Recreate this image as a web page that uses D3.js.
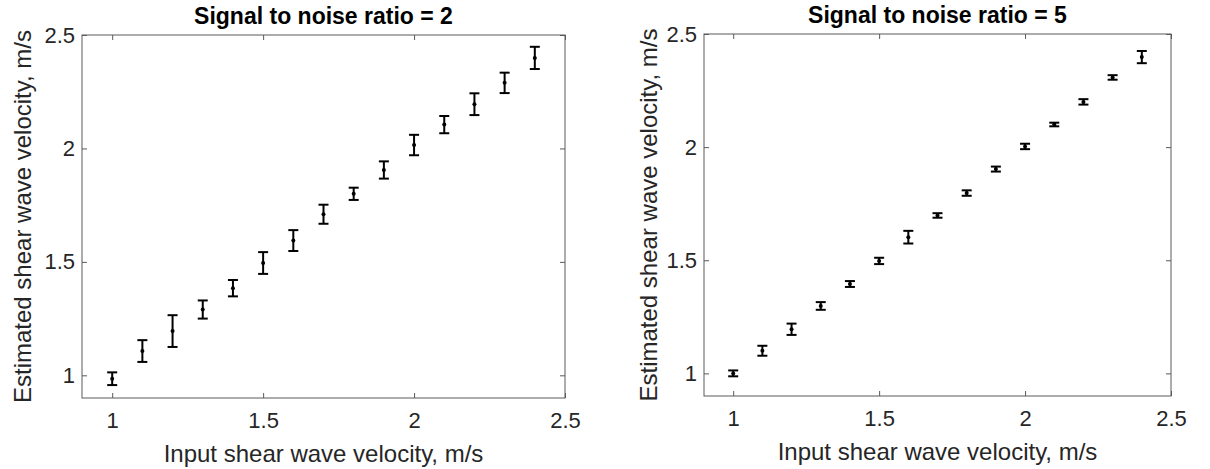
<!DOCTYPE html>
<html>
<head>
<meta charset="utf-8">
<script src="https://cdn.jsdelivr.net/npm/d3@7"></script>
<style>
  body { margin: 0; background: #fff; }
  svg text { font-family: Arial, "Liberation Sans", sans-serif; fill: #262626; }
</style>
</head>
<body>
<div id="chart"></div>
<script>
// input velocities (shared x values)
var inputVel = [1.0, 1.1, 1.2, 1.3, 1.4, 1.5, 1.6, 1.7, 1.8, 1.9, 2.0, 2.1, 2.2, 2.3, 2.4];

// SNR = 2 : estimated mean and error half-length
var snr2Mean = [0.985, 1.107, 1.195, 1.290, 1.384, 1.495, 1.594, 1.710, 1.800, 1.905, 2.015, 2.105, 2.195, 2.289, 2.399];
var snr2Err  = [0.028, 0.048, 0.070, 0.040, 0.036, 0.048, 0.046, 0.042, 0.027, 0.038, 0.045, 0.038, 0.048, 0.045, 0.049];

// SNR = 5
var snr5Mean = [1.000, 1.100, 1.195, 1.298, 1.395, 1.497, 1.602, 1.698, 1.797, 1.903, 2.003, 2.100, 2.200, 2.308, 2.398];
var snr5Err  = [0.013, 0.022, 0.025, 0.017, 0.013, 0.014, 0.028, 0.010, 0.012, 0.011, 0.012, 0.008, 0.012, 0.010, 0.027];

var xTicks = [1, 1.5, 2, 2.5];
var yTicks = [1, 1.5, 2, 2.5];

var panels = [
  {title: "Signal to noise ratio = 2", mean: snr2Mean, err: snr2Err, left: 82, top: 35, w: 483, h: 363, ylabX: 31},
  {title: "Signal to noise ratio = 5", mean: snr5Mean, err: snr5Err, left: 704, top: 34, w: 467, h: 362, ylabX: 657}
];

var svg = d3.select("#chart")
  .append("svg")
    .attr("width", 1210)
    .attr("height", 469);

var axisColor = "#5a5a5a";

panels.forEach(function(p) {
  var g = svg.append("g")
      .attr("transform", "translate(" + p.left + "," + p.top + ")");

  var x = d3.scaleLinear().domain([0.9, 2.5]).range([0, p.w]);
  var y = d3.scaleLinear().domain([0.9, 2.5]).range([p.h, 0]);

  // bottom axis with labels
  g.append("g")
      .attr("transform", "translate(0," + p.h + ")")
      .call(d3.axisBottom(x).tickValues(xTicks).tickFormat(d3.format("")).tickSizeInner(-5).tickSizeOuter(0).tickPadding(14))
      .call(styleAxis);
  // left axis with labels
  g.append("g")
      .call(d3.axisLeft(y).tickValues(yTicks).tickFormat(d3.format("")).tickSizeInner(-5).tickSizeOuter(0).tickPadding(7))
      .call(styleAxis);
  // top and right ticks only
  g.append("g")
      .call(d3.axisTop(x).tickValues(xTicks).tickFormat("").tickSizeInner(-5).tickSizeOuter(0))
      .call(styleAxis);
  g.append("g")
      .attr("transform", "translate(" + p.w + ",0)")
      .call(d3.axisRight(y).tickValues(yTicks).tickFormat("").tickSizeInner(-5).tickSizeOuter(0))
      .call(styleAxis);

  // box
  g.append("rect")
      .attr("width", p.w)
      .attr("height", p.h)
      .attr("fill", "none")
      .attr("stroke", axisColor)
      .attr("stroke-width", 1);

  var data = inputVel.map(function(v, i) { return {x: v, m: p.mean[i], e: p.err[i]}; });
  var cap = 5;

  var bars = g.selectAll(".eb")
      .data(data)
      .enter()
      .append("g")
        .attr("class", "eb");

  bars.append("line")
      .attr("x1", function(d) { return x(d.x); })
      .attr("x2", function(d) { return x(d.x); })
      .attr("y1", function(d) { return y(d.m - d.e); })
      .attr("y2", function(d) { return y(d.m + d.e); })
      .attr("stroke", "#000").attr("stroke-width", 2);
  bars.append("line")
      .attr("x1", function(d) { return x(d.x) - cap; })
      .attr("x2", function(d) { return x(d.x) + cap; })
      .attr("y1", function(d) { return y(d.m + d.e); })
      .attr("y2", function(d) { return y(d.m + d.e); })
      .attr("stroke", "#000").attr("stroke-width", 2);
  bars.append("line")
      .attr("x1", function(d) { return x(d.x) - cap; })
      .attr("x2", function(d) { return x(d.x) + cap; })
      .attr("y1", function(d) { return y(d.m - d.e); })
      .attr("y2", function(d) { return y(d.m - d.e); })
      .attr("stroke", "#000").attr("stroke-width", 2);
  bars.append("circle")
      .attr("cx", function(d) { return x(d.x); })
      .attr("cy", function(d) { return y(d.m); })
      .attr("r", 2)
      .attr("fill", "#000");

  // title
  g.append("text")
      .attr("x", p.w / 2)
      .attr("y", -11)
      .attr("text-anchor", "middle")
      .style("font-size", "23px")
      .style("font-weight", "bold")
      .style("fill", "#000")
      .text(p.title);

  // x label
  g.append("text")
      .attr("x", p.w / 2)
      .attr("y", p.h + 64)
      .attr("text-anchor", "middle")
      .style("font-size", "24px")
      .text("Input shear wave velocity, m/s");

  // y label
  svg.append("text")
      .attr("transform", "translate(" + p.ylabX + "," + (p.top + p.h / 2) + ") rotate(-90)")
      .attr("text-anchor", "middle")
      .style("font-size", "24px")
      .text("Estimated shear wave velocity, m/s");
});

function styleAxis(sel) {
  sel.select(".domain").remove();
  sel.selectAll(".tick line").attr("stroke", axisColor);
  sel.selectAll(".tick text").style("font-size", "22px").attr("fill", "#262626");
}
</script>
</body>
</html>
